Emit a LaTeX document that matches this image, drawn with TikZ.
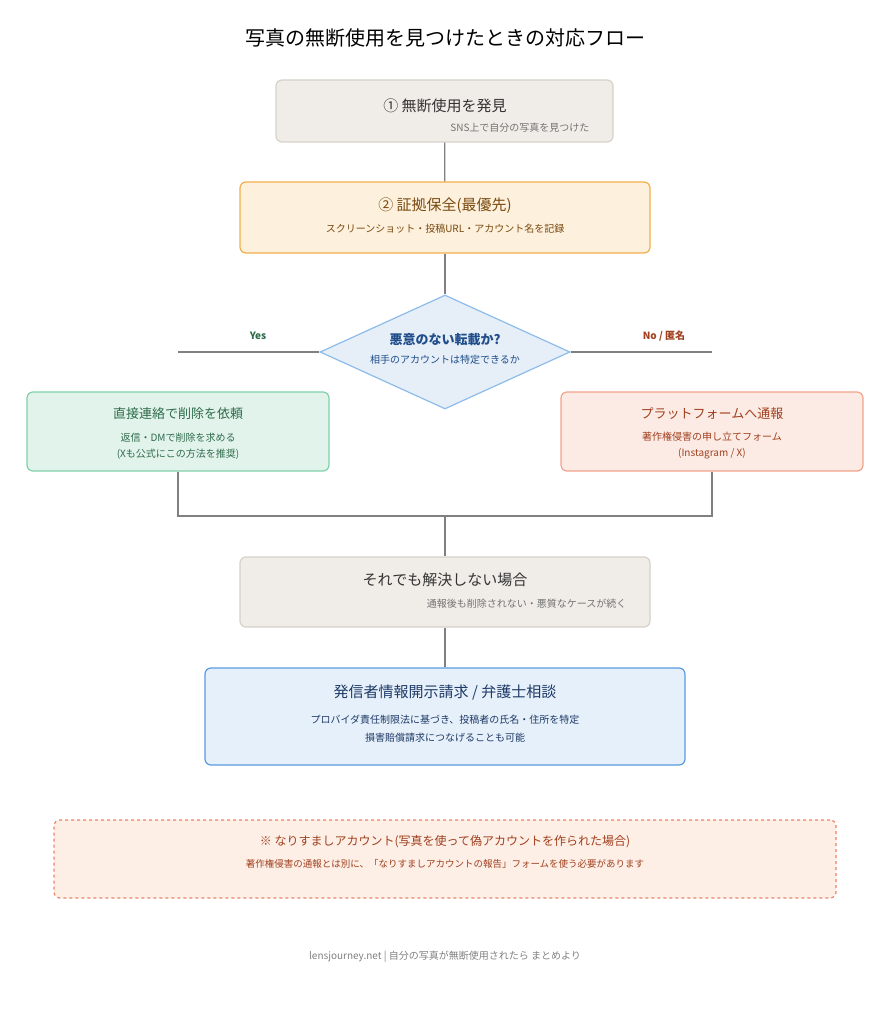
\documentclass[tikz,border=0pt]{standalone}
\usepackage{fontspec}
\setmainfont{Noto Sans CJK JP}
\usetikzlibrary{shapes.geometric}
\usetikzlibrary{positioning}

\definecolor{grayfill}{HTML}{F0EDE8}
\definecolor{graydraw}{HTML}{D6D2CA}
\definecolor{orfill}{HTML}{FDF0DC}
\definecolor{ordraw}{HTML}{F2AE4A}
\definecolor{ortext}{HTML}{7A4A10}
\definecolor{difill}{HTML}{E6EEF8}
\definecolor{didraw}{HTML}{8CBCEA}
\definecolor{ditext}{HTML}{1F4E8A}
\definecolor{grfill}{HTML}{E2F3EC}
\definecolor{grdraw}{HTML}{80D0AA}
\definecolor{grtext}{HTML}{2E6B4A}
\definecolor{rdfill}{HTML}{FCEBE4}
\definecolor{rddraw}{HTML}{F0A28A}
\definecolor{rdtext}{HTML}{A0401E}
\definecolor{blfill}{HTML}{E6F0FA}
\definecolor{bldraw}{HTML}{5A9AE0}
\definecolor{bltext}{HTML}{1E3A66}
\definecolor{ntfill}{HTML}{FDEEE6}
\definecolor{ntdraw}{HTML}{EE8262}
\definecolor{linec}{HTML}{808080}

\begin{document}
\begin{tikzpicture}[x=1pt,y=-1pt,
	box/.style={draw,rounded corners=6pt,line width=1.2pt,inner sep=0pt},
	ttl/.style={font=\fontsize{15}{17}\selectfont},
	sub/.style={font=\fontsize{10}{12}\selectfont},
	link/.style={draw=linec,line width=1.2pt}]
	
	\useasboundingbox (0,0) rectangle (890,1024);
	
	\node[font=\fontsize{20}{24}\selectfont] (title) at (445,38) {写真の無断使用を見つけたときの対応フロー};
	
	\node[box,fill=grayfill,draw=graydraw,minimum width=337pt,minimum height=62pt] (find) at (444.5,111) {};
	\node[ttl,text=black!80] (findt) at (445,106) {① 無断使用を発見};
	\node[sub,text=black!55,anchor=east] (finds) at (593,128) {SNS上で自分の写真を見つけた};
	
	\node[box,fill=orfill,draw=ordraw,minimum width=410pt,minimum height=71pt] (keep) at (445,217.5) {};
	\node[ttl,text=ortext] (keept) at (445,206) {② 証拠保全(最優先)};
	\node[sub,text=ortext] (keeps) at (445,229) {スクリーンショット・投稿URL・アカウント名を記録};
	
	\node[diamond,draw=didraw,fill=difill,line width=1.2pt,minimum width=250pt,minimum height=114pt,inner sep=0pt] (ask) at (445,352) {};
	\node[font=\fontsize{13}{15}\selectfont\bfseries,text=ditext] (askt) at (445,340) {悪意のない転載か?};
	\node[sub,text=ditext] (asks) at (445,360) {相手のアカウントは特定できるか};
	
	\node[box,fill=grfill,draw=grdraw,minimum width=302pt,minimum height=79pt] (direct) at (178,431.5) {};
	\node[font=\fontsize{13}{15}\selectfont,text=grtext] (directt) at (178,414) {直接連絡で削除を依頼};
	\node[sub,text=grtext,align=center] (directs) at (178,446) {返信・DMで削除を求める\\[4pt](Xも公式にこの方法を推奨)};
	
	\node[box,fill=rdfill,draw=rddraw,minimum width=302pt,minimum height=79pt] (report) at (712,431.5) {};
	\node[font=\fontsize{13}{15}\selectfont,text=rdtext] (reportt) at (712,414) {プラットフォームへ通報};
	\node[sub,text=rdtext,align=center] (reports) at (712,446) {著作権侵害の申し立てフォーム\\[4pt](Instagram / X)};
	
	\node[box,fill=grayfill,draw=graydraw,minimum width=410pt,minimum height=70pt] (still) at (445,592) {};
	\node[ttl,text=black!80] (stillt) at (445,580) {それでも解決しない場合};
	\node[sub,text=black!55,anchor=east] (stills) at (630,604) {通報後も削除されない・悪質なケースが続く};
	
	\node[box,fill=blfill,draw=bldraw,minimum width=480pt,minimum height=97pt] (legal) at (445,716.5) {};
	\node[font=\fontsize{15}{17}\selectfont,text=bltext] (legalt) at (445,692) {発信者情報開示請求 / 弁護士相談};
	\node[sub,text=bltext,align=center] (legals) at (445,729) {プロバイダ責任制限法に基づき、投稿者の氏名・住所を特定\\[6pt]損害賠償請求につなげることも可能};
	
	\node[box,dashed,fill=ntfill,draw=ntdraw,minimum width=782pt,minimum height=78pt] (note) at (445,859) {};
	\node[font=\fontsize{12}{14}\selectfont,text=rdtext] (notet) at (445,842) {※ なりすましアカウント(写真を使って偽アカウントを作られた場合)};
	\node[font=\fontsize{9.5}{11}\selectfont,text=rdtext] (notes) at (445,864) {著作権侵害の通報とは別に、「なりすましアカウントの報告」フォームを使う必要があります};
	
	\node[font=\fontsize{10}{12}\selectfont,text=black!50] (foot) at (445,957) {lensjourney.net | 自分の写真が無断使用されたら まとめより};
	
	\coordinate (yesend) at (178,352);
	\coordinate (noend) at (712,352);
	\coordinate (joinl) at (178,516);
	\coordinate (joinr) at (712,516);
	\coordinate (joinm) at (445,516);
	
	\path[link] (find) -- (keep);
	\path[link] (keep) -- (ask);
	\path[link] (ask.west) -- (yesend);
	\path[link] (ask.east) -- (noend);
	\path[link] (direct.south) -- (joinl) -- (joinr) -- (report.south);
	\path[link] (joinm) -- (still);
	\path[link] (still) -- (legal);
	
	\node[font=\fontsize{10}{12}\selectfont\bfseries,text=grtext] (yes) at (258,336) {Yes};
	\node[font=\fontsize{10}{12}\selectfont\bfseries,text=rdtext] (no) at (664,336) {No / 匿名};
\end{tikzpicture}
\end{document}
